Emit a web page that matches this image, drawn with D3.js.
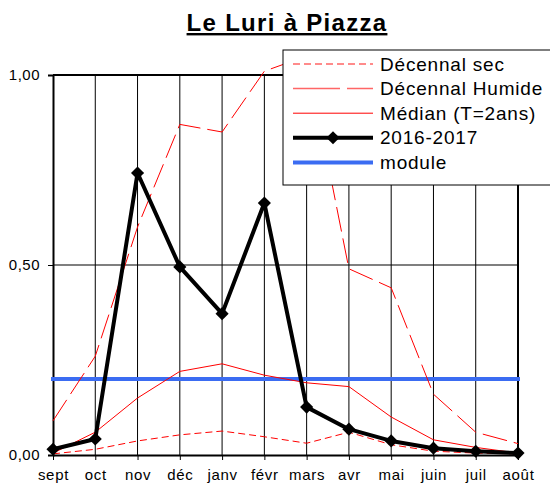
<!DOCTYPE html>
<html>
<head>
<meta charset="utf-8">
<script src="https://cdn.jsdelivr.net/npm/d3@7"></script>
<style>
  body { margin: 0; background: #fff; }
  svg { display: block; font-family: "Liberation Sans", Arial, sans-serif; }
</style>
</head>
<body>
<svg id="chart" width="550" height="484"></svg>
<script>
// months (hydrological year)
const months = ["sept", "oct", "nov", "déc", "janv", "févr", "mars", "avr", "mai", "juin", "juil", "août"];

// flows
const decennalSec = [0.003, 0.015, 0.037, 0.053, 0.063, 0.048, 0.031, 0.060, 0.027, 0.010, 0.005, 0.003];
const decennalHumide = [0.09, 0.26, 0.60, 0.87, 0.85, 1.01, 1.05, 0.49, 0.44, 0.16, 0.06, 0.03];
const median = [0.005, 0.06, 0.15, 0.22, 0.24, 0.21, 0.19, 0.18, 0.10, 0.04, 0.02, 0.005];
const annee2016 = [0.015, 0.042, 0.742, 0.495, 0.372, 0.663, 0.126, 0.068, 0.037, 0.018, 0.010, 0.005];
const module = 0.20;

const yTicks = [0, 0.5, 1];

const svg = d3.select("#chart")

var x = d3.scalePoint()
    .domain(months)
    .range([53, 518])

var y = d3.scaleLinear()
    .domain([0, 1])
    .range([455, 75])

// title
svg.append("text")
    .attr("x", 287).attr("y", 31)
    .attr("text-anchor", "middle")
    .attr("font-size", 24)
    .attr("font-weight", "bold")
    .attr("letter-spacing", 1.3)
    .attr("text-decoration", "underline")
    .text("Le Luri à Piazza")

// vertical grid
svg.append("g")
    .selectAll("line")
    .data(months.slice(1, -1))
    .enter().append("line")
    .attr("x1", d => x(d)).attr("x2", d => x(d))
    .attr("y1", y(1)).attr("y2", y(0))
    .attr("stroke", "#000").attr("stroke-width", 1)

// horizontal grid at 0.5
svg.append("line")
    .attr("x1", x("sept")).attr("x2", x("août"))
    .attr("y1", y(0.5)).attr("y2", y(0.5))
    .attr("stroke", "#000").attr("stroke-width", 1.2)

// frame: top and right
svg.append("path")
    .attr("d", `M${x("sept")},${y(1)}H${x("août")}V${y(0)}`)
    .attr("fill", "none").attr("stroke", "#000").attr("stroke-width", 2)

// y axis
const yAxis = svg.append("g")
    .attr("transform", `translate(${x("sept")},0)`)
    .call(d3.axisLeft(y).tickValues(yTicks).tickSize(5).tickPadding(8)
        .tickFormat(d => d3.format(".2f")(d).replace(".", ",")))
yAxis.select(".domain").attr("stroke-width", 2)
yAxis.selectAll("text").attr("font-size", 15).attr("letter-spacing", 0.5)
    .attr("font-family", "Liberation Sans, Arial, sans-serif").attr("fill", "#000")

// x axis
const xAxis = svg.append("g")
    .attr("transform", `translate(0,${y(0)})`)
    .call(d3.axisBottom(x).tickSize(5).tickPadding(9).tickSizeOuter(0))
xAxis.select(".domain").attr("stroke-width", 2)
xAxis.selectAll("text").attr("font-size", 15).attr("letter-spacing", 0.7)
    .attr("font-family", "Liberation Sans, Arial, sans-serif").attr("fill", "#000")

var line = d3.line()
    .x((d, i) => x(months[i]))
    .y(d => y(d))

// module
svg.append("line")
    .attr("x1", x("sept") - 2).attr("x2", x("août") + 2)
    .attr("y1", y(module)).attr("y2", y(module))
    .attr("stroke", "#3b6cf2").attr("stroke-width", 4)

svg.append("path").datum(decennalSec)
    .attr("d", line).attr("fill", "none")
    .attr("stroke", "#ff0000").attr("stroke-width", 1).attr("stroke-dasharray", "7,4")

svg.append("path").datum(decennalHumide)
    .attr("d", line).attr("fill", "none")
    .attr("stroke", "#ff0000").attr("stroke-width", 1).attr("stroke-dasharray", "25,7")

svg.append("path").datum(median)
    .attr("d", line).attr("fill", "none")
    .attr("stroke", "#ff0000").attr("stroke-width", 1)

svg.append("path").datum(annee2016)
    .attr("d", line).attr("fill", "none")
    .attr("stroke", "#000").attr("stroke-width", 4).attr("stroke-linejoin", "round")

var diamond = d3.symbol().type(d3.symbolDiamond2).size(110)

svg.append("g")
    .selectAll("path")
    .data(annee2016)
    .enter().append("path")
    .attr("transform", (d, i) => `translate(${x(months[i])},${y(d)})`)
    .attr("d", diamond)
    .attr("fill", "#000")

// legend
const legend = svg.append("g")
legend.append("rect")
    .attr("x", 283).attr("y", 50).attr("width", 280).attr("height", 135)
    .attr("fill", "#fff").attr("stroke", "#000").attr("stroke-width", 1)

const legendItems = [
    { name: "Décennal sec", stroke: "#ff6666", width: 1.5, dash: "7,4" },
    { name: "Décennal Humide", stroke: "#ff6666", width: 1.5, dash: "47,7" },
    { name: "Médian (T=2ans)", stroke: "#ff0000", width: 1, dash: null },
    { name: "2016-2017", stroke: "#000", width: 4, dash: null, marker: true },
    { name: "module", stroke: "#3b6cf2", width: 4, dash: null }
]

const rows = legend.selectAll(".row")
    .data(legendItems)
    .enter().append("g")
    .attr("transform", (d, i) => `translate(0,${64 + i * 24.6})`)

rows.append("line")
    .attr("x1", 293).attr("x2", 373)
    .attr("stroke", d => d.stroke)
    .attr("stroke-width", d => d.width)
    .attr("stroke-dasharray", d => d.dash)

rows.filter(d => d.marker).append("path")
    .attr("transform", "translate(333,0)")
    .attr("d", diamond)
    .attr("fill", "#000")

rows.append("text")
    .attr("x", 380).attr("dy", "0.35em")
    .attr("font-size", 19)
    .attr("letter-spacing", 0.8)
    .text(d => d.name)
</script>
</body>
</html>
